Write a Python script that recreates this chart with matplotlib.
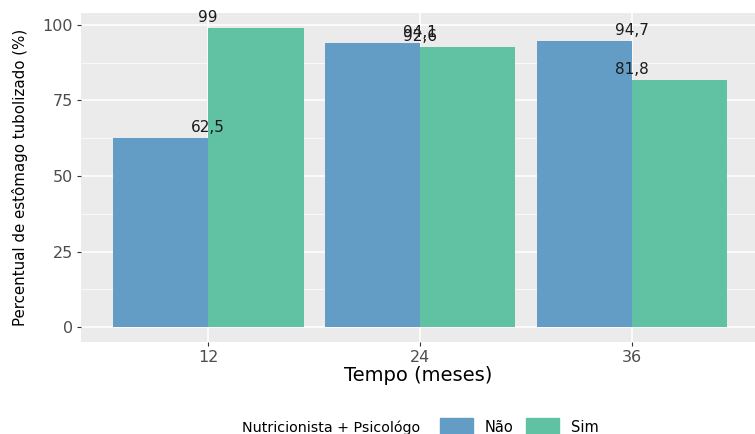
import matplotlib
matplotlib.use("Agg")
import matplotlib.pyplot as plt
from matplotlib.patches import Rectangle
import numpy as np

plt.rcParams['font.family'] = ['DejaVu Sans']

# Data
tempos = ["12", "24", "36"]
grupos = ["Não", "Sim"]
valores_nao = [62.5, 94.1, 94.7]
valores_sim = [99.0, 92.6, 81.8]
rotulos_nao = ["62,5", "94,1", "94,7"]
rotulos_sim = ["99", "92,6", "81,8"]

cor_nao = "#639DC5"
cor_sim = "#61C2A3"
painel = "#EBEBEB"

W, H = 755, 434
fig = plt.figure(figsize=(W / 100, H / 100), dpi=100)
fig.patch.set_facecolor("white")

left, right, top, bottom = 81, 755, 13, 342
ax = fig.add_axes([left / W, 1 - bottom / H, (right - left) / W, (bottom - top) / H])
ax.set_facecolor(painel)

x = np.arange(1, len(tempos) + 1)
largura = 0.45
ax.bar(x - largura / 2, valores_nao, width=largura, color=cor_nao, zorder=3)
ax.bar(x + largura / 2, valores_sim, width=largura, color=cor_sim, zorder=3)

# Value labels sit above each bar, centred on the category
for xi, v, r in zip(x, valores_nao, rotulos_nao):
    ax.text(xi, v + 1.0, r, ha="center", va="bottom", fontsize=11, color="#1a1a1a", zorder=4)
for xi, v, r in zip(x, valores_sim, rotulos_sim):
    ax.text(xi, v + 1.0, r, ha="center", va="bottom", fontsize=11, color="#1a1a1a", zorder=4)

ax.set_xlim(0.4, 3.58)
ax.set_ylim(-4.95, 103.95)

ax.set_yticks([0, 25, 50, 75, 100])
ax.set_yticks([12.5, 37.5, 62.5, 87.5], minor=True)
ax.set_xticks(x)
ax.set_xticklabels(tempos)

ax.grid(which="major", color="white", linewidth=1.1, zorder=0)
ax.grid(which="minor", axis="y", color="white", linewidth=0.5, zorder=0)
ax.set_axisbelow(True)

for s in ax.spines.values():
    s.set_visible(False)

ax.tick_params(axis="both", which="major", length=3, width=0.8, color="#333333",
               labelsize=11.5, labelcolor="#4D4D4D", pad=3)
ax.tick_params(axis="y", which="minor", length=0)

ax.set_xlabel("Tempo (meses)", fontsize=14, color="black", va="center")
ax.xaxis.set_label_coords(0.5, -0.103)
ax.set_ylabel("Percentual de estômago tubolizado (%)", fontsize=10.8, color="black", va="center")
ax.yaxis.set_label_coords(-0.09, 0.5)

# Legend along the bottom
fig.text(242 / W, 1 - 428 / H, "Nutricionista + Psicológo", fontsize=10.3, ha="left", va="center")
for (x0, cor, nome) in [(440, cor_nao, grupos[0]), (526, cor_sim, grupos[1])]:
    fig.patches.append(Rectangle((x0 / W, 1 - 438 / H), 33 / W, 20 / H,
                                 transform=fig.transFigure, color=cor, zorder=2))
    fig.text((x0 + 45) / W, 1 - 428 / H, nome, fontsize=10.5, ha="left", va="center")

fig.savefig("out.png", dpi=100)
